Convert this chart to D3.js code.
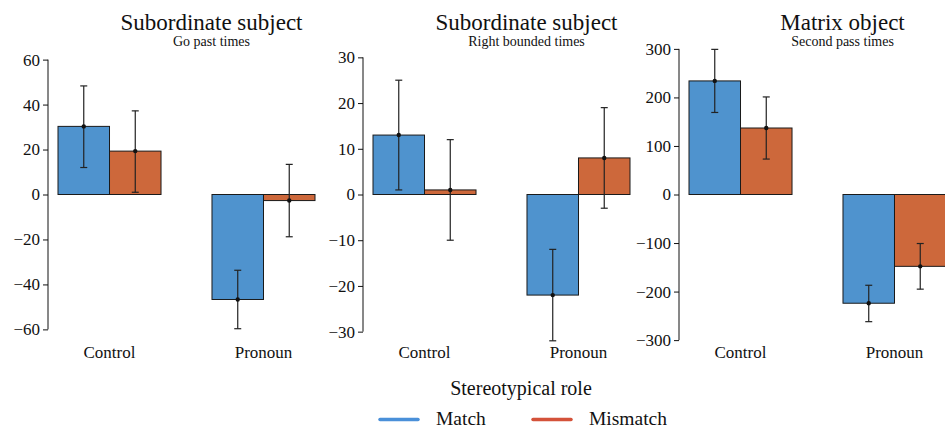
<!DOCTYPE html>
<html>
<head>
<meta charset="utf-8">
<script src="https://cdn.jsdelivr.net/npm/d3@7"></script>
<style>
  body { margin: 0; background: #fff; }
  text { font-family: "Liberation Serif", "DejaVu Serif", serif; fill: #111; }
</style>
</head>
<body>
<div id="chart"></div>
<script>
// data
var categories = ['Control', 'Pronoun'];
var hues = ['Match', 'Mismatch'];
var panelTitles = ['Subordinate subject', 'Subordinate subject', 'Matrix object'];
var panelSubtitles = ['Go past times', 'Right bounded times', 'Second pass times'];

var matchMeans = [[30.3, -46.7], [13, -22], [234, -224]];
var matchLow = [[12, -59.7], [1, -32], [169, -262]];
var matchHigh = [[48.3, -33.7], [25, -12], [299, -187]];

var mismatchMeans = [[19.3, -2.7], [1, 8], [137, -148]];
var mismatchLow = [[1, -18.8], [-10, -3], [73, -195]];
var mismatchHigh = [[37.2, 13.4], [12, 19], [201, -101]];

var yTicks = [
  [-60, -40, -20, 0, 20, 40, 60],
  [-30, -20, -10, 0, 10, 20, 30],
  [-300, -200, -100, 0, 100, 200, 300]
];
var yLimits = [66.5, 32.7, 308];

var width = 945;
var height = 428;
var TOP = 45, BOTTOM = 344;
var axisX = [48, 363, 679];
var SPINE_OFFSET = 10;
var PLOT_WIDTH = 257;
var barColors = ['#4f93ce', '#cd683b'];
var legendColors = ['#4a90d9', '#d4523a'];

var svg = d3.select('#chart').append('svg')
  .attr('width', width)
  .attr('height', height);

panelTitles.forEach(function (title, p) {
  var left = axisX[p] + SPINE_OFFSET;
  var g = svg.append('g');

  var y = d3.scaleLinear()
    .domain([-yLimits[p], yLimits[p]])
    .range([BOTTOM, TOP]);

  var x0 = d3.scaleBand()
    .domain(categories)
    .range([left, left + PLOT_WIDTH])
    .paddingInner(0.331)
    .paddingOuter(0);

  var x1 = d3.scaleBand()
    .domain(hues)
    .range([0, x0.bandwidth()]);

  var rows = [];
  categories.forEach(function (c, i) {
    rows.push({ cat: c, hue: 'Match', mean: matchMeans[p][i], lo: matchLow[p][i], hi: matchHigh[p][i] });
    rows.push({ cat: c, hue: 'Mismatch', mean: mismatchMeans[p][i], lo: mismatchLow[p][i], hi: mismatchHigh[p][i] });
  });

  // bars
  g.selectAll('.bar')
    .data(rows)
    .enter().append('rect')
    .attr('class', 'bar')
    .attr('x', function (d) { return x0(d.cat) + x1(d.hue); })
    .attr('width', x1.bandwidth())
    .attr('y', function (d) { return y(Math.max(0, d.mean)); })
    .attr('height', function (d) { return Math.abs(y(d.mean) - y(0)); })
    .attr('fill', function (d) { return barColors[hues.indexOf(d.hue)]; })
    .attr('stroke', '#1a1a1a')
    .attr('stroke-width', 1);

  // error bars
  var err = g.selectAll('.err')
    .data(rows)
    .enter().append('g')
    .attr('class', 'err')
    .attr('transform', function (d) { return 'translate(' + (x0(d.cat) + x1(d.hue) + x1.bandwidth() / 2) + ',0)'; });

  err.append('line')
    .attr('y1', function (d) { return y(d.lo); })
    .attr('y2', function (d) { return y(d.hi); })
    .attr('stroke', '#222').attr('stroke-width', 1.2);
  err.append('line')
    .attr('x1', -3.5).attr('x2', 3.5)
    .attr('y1', function (d) { return y(d.lo); })
    .attr('y2', function (d) { return y(d.lo); })
    .attr('stroke', '#222').attr('stroke-width', 1.2);
  err.append('line')
    .attr('x1', -3.5).attr('x2', 3.5)
    .attr('y1', function (d) { return y(d.hi); })
    .attr('y2', function (d) { return y(d.hi); })
    .attr('stroke', '#222').attr('stroke-width', 1.2);
  err.append('circle')
    .attr('cy', function (d) { return y(d.mean); })
    .attr('r', 2.2)
    .attr('fill', '#111');

  // y axis (trimmed spine)
  var ticks = yTicks[p];
  var yAxis = d3.axisLeft(y)
    .tickValues(ticks)
    .tickSize(5)
    .tickPadding(3)
    .tickSizeOuter(0);
  var ax = g.append('g')
    .attr('transform', 'translate(' + axisX[p] + ',0)')
    .call(yAxis);
  ax.select('.domain').remove();
  ax.append('line')
    .attr('y1', y(ticks[0]))
    .attr('y2', y(ticks[ticks.length - 1]))
    .attr('stroke', '#111');
  ax.selectAll('.tick line').attr('stroke', '#111');
  ax.selectAll('.tick text')
    .style('font-family', '"Liberation Serif", serif')
    .style('font-size', '17px')
    .attr('fill', '#111');

  // category labels
  g.selectAll('.cat')
    .data(categories)
    .enter().append('text')
    .attr('class', 'cat')
    .attr('x', function (d) { return x0(d) + x0.bandwidth() / 2; })
    .attr('y', 358)
    .attr('text-anchor', 'middle')
    .style('font-size', '17px')
    .text(function (d) { return d; });

  // titles
  var titleX = left + PLOT_WIDTH / 2 + 25;
  g.append('text')
    .attr('x', titleX)
    .attr('y', 29.5)
    .attr('text-anchor', 'middle')
    .style('font-size', '23px')
    .text(title);
  g.append('text')
    .attr('x', titleX)
    .attr('y', 45.5)
    .attr('text-anchor', 'middle')
    .style('font-size', '14px')
    .text(panelSubtitles[p]);
});

// legend
var legend = svg.append('g');
legend.append('text')
  .attr('x', 521)
  .attr('y', 395)
  .attr('text-anchor', 'middle')
  .style('font-size', '20px')
  .text('Stereotypical role');

var legendX = [380, 533];
hues.forEach(function (h, i) {
  legend.append('line')
    .attr('x1', legendX[i]).attr('x2', legendX[i] + 38)
    .attr('y1', 419.5).attr('y2', 419.5)
    .attr('stroke', legendColors[i])
    .attr('stroke-width', 3.5)
    .attr('stroke-linecap', 'round');
  legend.append('text')
    .attr('x', legendX[i] + 56)
    .attr('y', 425)
    .style('font-size', '19.5px')
    .text(h);
});
</script>
</body>
</html>
